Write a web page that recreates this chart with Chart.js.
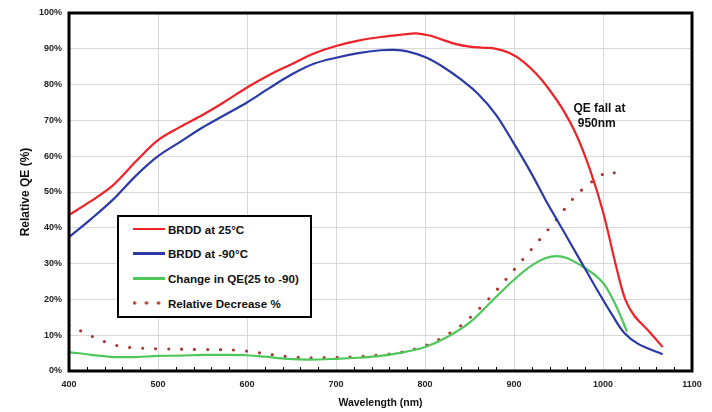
<!DOCTYPE html>
<html>
<head>
<meta charset="utf-8">
<script src="https://cdn.jsdelivr.net/npm/chart.js@4"></script>
<style>
  html, body { margin: 0; padding: 0; background: #fff; }
  #wrap { position: relative; width: 712px; height: 412px; }
  #legend {
    position: absolute; left: 117px; top: 215px; width: 191px; height: 99px;
    border: 2px solid #000; background: #fff;
    font: bold 11.6px "Liberation Sans", Arial, sans-serif; color: #111;
  }
  .row { position: absolute; left: 14px; height: 14px; display: flex; align-items: center; white-space: nowrap; }
  .swatch { width: 32px; height: 2.5px; margin-right: 3px; }
  .dots { width: 32px; height: 4px; background: radial-gradient(circle, #a8392f 1.4px, transparent 1.9px) -4.5px 0 / 12px 4px repeat-x; }
</style>
</head>
<body>
<div id="wrap">
  <canvas id="chart" width="712" height="412"></canvas>
  <div id="legend"></div>
</div>
<script>
// wavelength (nm) / relative QE (%)
const warmNm = [400, 425, 450, 475, 500, 525, 550, 575, 600, 625, 650, 675, 700, 725, 750, 775, 790, 805, 820, 835, 850, 865, 880, 895, 910, 925, 940, 955, 970, 985, 1000, 1015, 1025, 1035, 1050, 1067]
const warmQE = [43.6, 47.5, 52, 58.5, 64.5, 68.2, 71.5, 75.2, 79.2, 82.7, 85.7, 88.7, 90.8, 92.3, 93.3, 94, 94.3, 93.7, 92.5, 91.3, 90.6, 90.3, 90, 88.8, 86.5, 83, 78.5, 73, 66, 56.5, 44.5, 29, 20, 15.5, 11.5, 6.7]

const coldNm = [400, 425, 450, 475, 500, 525, 550, 575, 600, 625, 650, 675, 700, 725, 750, 765, 780, 800, 820, 840, 860, 880, 900, 920, 935, 950, 965, 980, 995, 1010, 1024, 1040, 1067]
const coldQE = [37.4, 42.5, 48, 54.5, 60, 64, 68, 71.5, 75, 79, 82.8, 85.8, 87.5, 88.8, 89.6, 89.7, 89.3, 87.7, 85, 81.5, 77.3, 71.5, 63.5, 55, 48, 41.5, 35, 28.5, 22, 15.8, 10.6, 7.5, 4.7]

const changeNm = [400, 425, 450, 475, 500, 525, 550, 575, 600, 620, 645, 670, 700, 725, 750, 775, 800, 825, 850, 875, 900, 920, 935, 948, 960, 975, 990, 1002, 1015, 1027]
const changeQE = [5.3, 4.5, 3.9, 3.9, 4.2, 4.3, 4.5, 4.5, 4.4, 4, 3.4, 3.2, 3.4, 3.7, 4.2, 5.2, 6.7, 9.5, 13.5, 19.5, 25.5, 29.5, 31.5, 32.1, 31.5, 29.5, 27, 24, 18, 11]

const decreaseNm = [400, 415, 431, 446, 460, 480, 500, 550, 590, 610, 630, 650, 675, 700, 725, 750, 775, 796, 815, 828, 841, 863, 882, 899, 919, 938, 950, 965, 980, 1000, 1008, 1018]
const decreasePct = [12.8, 11, 9.1, 7.7, 6.8, 6.4, 6.2, 6, 5.8, 5.2, 4.5, 3.9, 3.7, 3.8, 4, 4.5, 5.3, 6.7, 8.7, 10.6, 12.8, 17.9, 23, 28, 33.8, 39.4, 43, 47.8, 51.4, 55, 55.8, 54.5]

const seriesNames = ["BRDD at 25°C", "BRDD at -90°C", "Change in QE(25 to -90)", "Relative Decrease %"]
const noteLines = ["QE fall at", "950nm"]

const pts = (xs, ys) => xs.map((x, i) => ({ x, y: ys[i] }))
const font = "'Liberation Sans', Arial, sans-serif"

const frame = {
  id: "frame",
  afterDraw(chart) {
    const { ctx, chartArea: a, scales } = chart
    ctx.save()
    // minor ticks on bottom axis
    ctx.strokeStyle = "#000"
    ctx.lineWidth = 1
    for (let v = 420; v < 1100; v += 20) {
      if (v % 100 === 0) continue
      const px = Math.round(scales.x.getPixelForValue(v)) + 0.5
      ctx.beginPath()
      ctx.moveTo(px, a.bottom)
      ctx.lineTo(px, a.bottom - 4)
      ctx.stroke()
    }
    ctx.lineWidth = 3
    ctx.strokeRect(a.left, a.top, a.right - a.left, a.bottom - a.top)
    // annotation
    ctx.fillStyle = "#111"
    ctx.font = "bold 12px " + font
    ctx.textAlign = "center"
    ctx.textBaseline = "middle"
    ctx.fillText(noteLines[0], scales.x.getPixelForValue(996), scales.y.getPixelForValue(73.2))
    ctx.fillText(noteLines[1], scales.x.getPixelForValue(993), scales.y.getPixelForValue(69))
    ctx.restore()
  },
}

const chart = new Chart(document.getElementById("chart"), {
  type: "line",
  data: {
    datasets: [
      { label: seriesNames[0], data: pts(warmNm, warmQE), borderColor: "#ee2229", borderWidth: 2.2 },
      { label: seriesNames[1], data: pts(coldNm, coldQE), borderColor: "#2b3aa6", borderWidth: 2.2 },
      { label: seriesNames[2], data: pts(changeNm, changeQE), borderColor: "#4ec75a", borderWidth: 2.2 },
      {
        label: seriesNames[3], data: pts(decreaseNm, decreasePct), borderColor: "#a8392f",
        borderWidth: 3.2, borderDash: [0, 13], borderCapStyle: "round",
      },
    ],
  },
  options: {
    responsive: false,
    animation: false,
    elements: { point: { radius: 0 }, line: { tension: 0.35 } },
    layout: { padding: { top: 13, right: 20, left: 0, bottom: 0 } },
    plugins: { legend: { display: false }, tooltip: { enabled: false } },
    scales: {
      x: {
        type: "linear", min: 400, max: 1100,
        ticks: { stepSize: 100, color: "#222", padding: 8, callback: (v) => String(v), font: { family: font, size: 9, weight: "bold" } },
        grid: { color: "#d9d9d9", drawTicks: false },
        border: { display: false },
        title: { display: true, text: "Wavelength (nm)", color: "#111", padding: { top: 0, bottom: 3 }, font: { family: font, size: 10.5, weight: "bold" } },
        afterFit: (s) => { s.height = 41 },
      },
      y: {
        min: 0, max: 100,
        ticks: { stepSize: 10, color: "#222", padding: 7, callback: (v) => v + "%", font: { family: font, size: 9, weight: "bold" } },
        grid: { color: "#d9d9d9", drawTicks: false },
        border: { display: false },
        title: { display: true, text: "Relative QE (%)", color: "#111", padding: { top: 18, bottom: 0 }, font: { family: font, size: 12, weight: "bold" } },
        afterFit: (s) => { s.width = 69 },
      },
    },
  },
  plugins: [frame],
})

// HTML legend built from the datasets
const legend = document.getElementById("legend")
chart.data.datasets.forEach((ds, i) => {
  const row = document.createElement("div")
  row.className = "row"
  row.style.top = (5 + i * 24.7) + "px"
  const sw = document.createElement("div")
  sw.className = ds.borderDash ? "dots" : "swatch"
  if (!ds.borderDash) sw.style.background = ds.borderColor
  if (ds.borderDash) sw.style.marginRight = "3px"
  const txt = document.createElement("span")
  txt.textContent = ds.label
  row.appendChild(sw)
  row.appendChild(txt)
  legend.appendChild(row)
})
</script>
</body>
</html>
